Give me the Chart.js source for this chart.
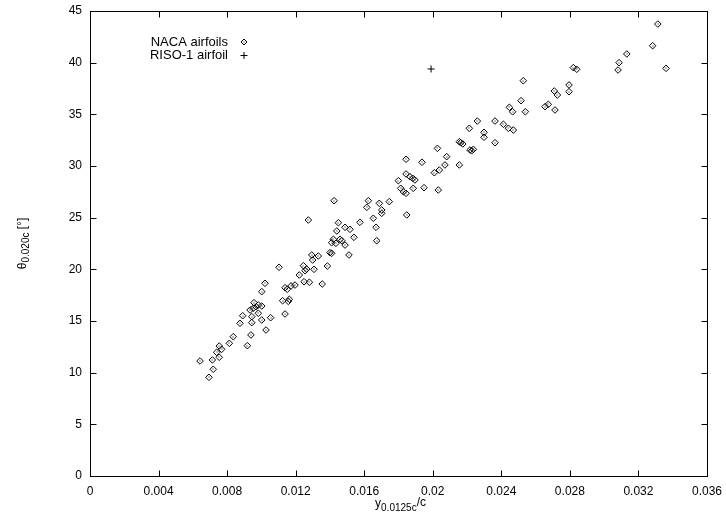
<!DOCTYPE html>
<html><head><meta charset="utf-8">
<script src="https://cdn.jsdelivr.net/npm/chart.js@4/dist/chart.umd.min.js"></script>
<style>html,body{margin:0;padding:0;background:#fff}#wrap{width:726px;height:515px}</style>
</head><body><div id="wrap"><canvas id="c" width="726" height="515"></canvas></div>
<script>
const nacaX = [0.01103,0.01245,0.01264,0.01255,0.01221,0.01280,0.01249,0.01021,0.01002,0.01138,0.01151,0.01173,0.01196,0.01124,0.01163,0.01157,0.00957,0.00982,0.01002,0.00969,0.00934,0.00953,0.00982,0.00891,0.00944,0.01002,0.01054,0.01138,0.00875,0.00944,0.01027,0.00836,0.00813,0.00939,0.00754,0.00768,0.00739,0.00918,0.00754,0.00714,0.00642,0.00719,0.00694,
0.01844,0.01937,0.01844,0.01867,0.01883,0.01896,0.01799,0.01813,0.01828,0.01844,0.01886,0.01949,0.01424,0.01624,0.01615,0.01688,0.01746,0.01702,0.01702,0.01848,0.01274,0.01449,0.01575,0.01653,0.01488,0.01517,0.01440,0.01669,0.01540,0.01673,0.01420,0.01410,0.01435,0.01459,0.01469,0.01488,0.01400,0.01410,0.01511,0.01294,0.01332,0.01299,0.01385,0.01307,0.01355,
0.02528,0.02515,0.02447,0.02466,0.02540,0.02655,0.02674,0.02260,0.02213,0.02363,0.02412,0.02441,0.02470,0.02299,0.02299,0.02155,0.02175,0.02163,0.02363,0.02217,0.02237,0.02227,0.02027,0.02081,0.02009,0.02038,0.02071,0.02155,0.02032,
0.03313,0.03283,0.03361,0.03132,0.03087,0.03081,0.02820,0.02840,0.02795,0.02795,0.02709,0.02727,0.02713];
const nacaY = [20.20,20.35,20.03,19.87,19.45,18.75,18.80,18.65,17.84,18.22,18.07,18.39,18.48,16.96,17.10,16.90,16.77,16.55,16.45,16.38,16.06,16.23,15.75,15.51,15.42,15.10,15.32,15.68,14.78,14.84,14.13,13.48,12.84,13.65,12.58,12.26,11.97,12.61,11.49,11.23,11.13,10.33,9.55,
30.65,30.36,29.23,28.96,28.81,28.65,28.58,27.84,27.51,27.36,27.84,27.90,26.64,26.64,26.00,26.39,26.55,25.74,25.42,25.26,24.77,24.51,24.55,24.94,24.07,23.87,23.71,24.07,23.10,22.77,22.91,22.58,22.52,22.91,22.77,22.35,21.61,21.55,21.39,21.39,21.29,20.90,20.32,20.00,18.58,
38.25,36.32,35.68,35.25,35.25,35.74,35.97,34.35,33.65,34.35,34.04,33.65,33.48,33.26,32.78,32.35,32.13,32.25,32.25,31.55,31.61,31.48,31.71,30.90,29.35,29.61,30.10,30.10,27.68,
43.74,41.64,39.45,40.84,40.00,39.29,39.52,39.36,37.84,37.19,37.26,36.87,35.42];
const risoX = [0.0199];
const risoY = [39.39];
const xTicks = [0,0.004,0.008,0.012,0.016,0.02,0.024,0.028,0.032,0.036];
const xTickLabels = ['0','0.004','0.008','0.012','0.016','0.02','0.024','0.028','0.032','0.036'];
const yTicks = [0,5,10,15,20,25,30,35,40,45];
const yTickLabels = ['0','5','10','15','20','25','30','35','40','45'];
const seriesNames = ['NACA airfoils','RISO-1 airfoil'];

const FONT = 'Liberation Sans, Arial, Helvetica, sans-serif';

const decor = {
  id: 'decor',
  afterDatasetsDraw(chart) {
    const ctx = chart.ctx;
    const meta = chart.getDatasetMeta(0);
    ctx.save();
    ctx.fillStyle = '#000';
    meta.data.forEach(p => { ctx.fillRect(Math.round(p.x) - 0.5, Math.round(p.y) - 0.5, 1, 1); });
    ctx.restore();
  },
  afterDraw(chart) {
    const {ctx, chartArea: a, scales: {x, y}} = chart;
    ctx.save();
    ctx.strokeStyle = '#000';
    ctx.lineWidth = 1;
    const L = Math.round(a.left) + 0.5, R = Math.round(a.right) + 0.5, T = Math.round(a.top) + 0.5, B = Math.round(a.bottom) + 0.5;
    ctx.strokeRect(L, T, R - L, B - T);
    const tl = 6;
    ctx.beginPath();
    xTicks.forEach(v => {
      const px = Math.round(x.getPixelForValue(v)) + 0.5;
      ctx.moveTo(px, B); ctx.lineTo(px, B - tl);
      ctx.moveTo(px, T); ctx.lineTo(px, T + tl);
    });
    yTicks.forEach(v => {
      const py = Math.round(y.getPixelForValue(v)) + 0.5;
      ctx.moveTo(L, py); ctx.lineTo(L + tl, py);
      ctx.moveTo(R, py); ctx.lineTo(R - tl, py);
    });
    ctx.stroke();

    // legend
    ctx.fillStyle = '#000';
    ctx.font = '13px ' + FONT;
    ctx.textAlign = 'right';
    ctx.textBaseline = 'middle';
    ctx.fillText(seriesNames[0], 228, 42);
    ctx.fillText(seriesNames[1], 228, 55);
    ctx.beginPath();
    ctx.moveTo(244 - 3, 42); ctx.lineTo(244, 39); ctx.lineTo(244 + 3, 42); ctx.lineTo(244, 45); ctx.closePath();
    ctx.stroke();
    ctx.fillRect(243.5, 41.5, 1, 1);
    ctx.beginPath();
    ctx.moveTo(240.5, 55.5); ctx.lineTo(247.5, 55.5);
    ctx.moveTo(244, 52); ctx.lineTo(244, 59);
    ctx.stroke();

    // x title: y_{0.0125c}/c
    ctx.textAlign = 'left';
    ctx.textBaseline = 'alphabetic';
    const big = '12px ' + FONT, small = '10px ' + FONT;
    ctx.font = big; const w1 = ctx.measureText('y').width; const w3 = ctx.measureText('/c').width;
    ctx.font = small; const w2 = ctx.measureText('0.0125c').width;
    let sx = (a.left + a.right) / 2 - (w1 + w2 + w3) / 2 + 2;
    ctx.font = big; ctx.fillText('y', sx, 507); sx += w1;
    ctx.font = small; ctx.fillText('0.0125c', sx, 511); sx += w2;
    ctx.font = big; ctx.fillText('/c', sx, 506);

    // y title: θ_{0.020c} [°]
    ctx.save();
    ctx.translate(26, (a.top + a.bottom) / 2);
    ctx.rotate(-Math.PI / 2);
    ctx.font = big; const v1 = ctx.measureText('θ').width; const v3 = ctx.measureText(' [°]').width;
    ctx.font = small; const v2 = ctx.measureText('0.020c').width;
    let sy = -(v1 + v2 + v3) / 2;
    ctx.font = big; ctx.fillText('θ', sy, 0); sy += v1;
    ctx.font = small; ctx.fillText('0.020c', sy, 3); sy += v2;
    ctx.font = big; ctx.fillText(' [°]', sy, 0);
    ctx.restore();
    ctx.restore();
  }
};

new Chart(document.getElementById('c'), {
  type: 'scatter',
  data: {
    datasets: [
      {
        label: seriesNames[0],
        data: nacaX.map((v, i) => ({x: v, y: nacaY[i]})),
        pointStyle: 'rectRot',
        pointRadius: 3.3,
        pointBorderWidth: 1,
        borderColor: '#000',
        backgroundColor: 'rgba(0,0,0,0)'
      },
      {
        label: seriesNames[1],
        data: risoX.map((v, i) => ({x: v, y: risoY[i]})),
        pointStyle: 'cross',
        pointRadius: 3.5,
        pointBorderWidth: 1,
        borderColor: '#000',
        backgroundColor: '#000'
      }
    ]
  },
  options: {
    responsive: false,
    animation: false,
    devicePixelRatio: 1,
    layout: {padding: {top: 11, right: 19, left: 0, bottom: 0}},
    plugins: {legend: {display: false}, tooltip: {enabled: false}},
    scales: {
      x: {
        type: 'linear', min: 0, max: 0.036,
        afterBuildTicks: s => { s.ticks = xTicks.map(v => ({value: v})); },
        afterFit: s => { s.height = 39; s.paddingLeft = 0; s.paddingRight = 0; },
        ticks: {
          autoSkip: false, maxRotation: 0, padding: 8, color: '#000',
          font: {family: FONT, size: 12},
          callback: (v, i) => xTickLabels[i]
        },
        grid: {display: false, drawTicks: false},
        border: {display: false}
      },
      y: {
        type: 'linear', min: 0, max: 45,
        afterBuildTicks: s => { s.ticks = yTicks.map(v => ({value: v})); },
        afterFit: s => { s.width = 90; s.paddingTop = 0; s.paddingBottom = 0; },
        ticks: {
          autoSkip: false, padding: 8, color: '#000',
          font: {family: FONT, size: 12},
          callback: (v, i) => yTickLabels[i]
        },
        grid: {display: false, drawTicks: false},
        border: {display: false}
      }
    }
  },
  plugins: [decor]
});
</script>
</body></html>
